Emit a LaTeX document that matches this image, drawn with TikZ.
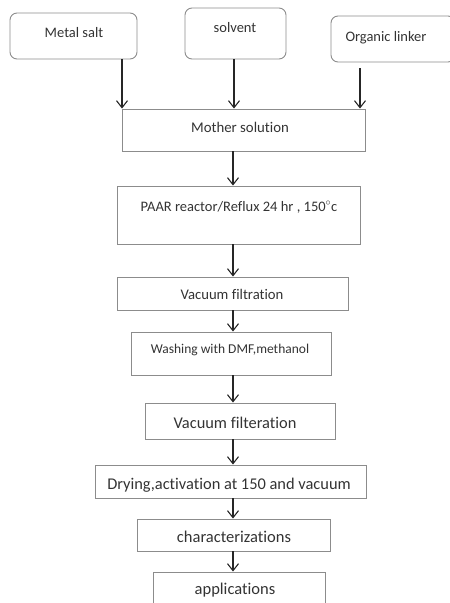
\documentclass[tikz,border=0pt]{standalone}
\usepackage{fontspec}
\setmainfont[Ligatures=CommonOff]{Carlito}
\usetikzlibrary{arrows.meta}
\definecolor{boxgray}{HTML}{8C8C8C}
\definecolor{txtgray}{HTML}{333333}
\definecolor{arrgray}{HTML}{262626}
\begin{document}
\begin{tikzpicture}[x=1pt,y=-1pt,
  box/.style={draw=boxgray,line width=0.9pt,inner sep=0pt,fill=none},
  rbox/.style={box,rounded corners=7pt},
  txt/.style={text=txtgray,inner sep=0pt,anchor=base},
  arr/.style={draw=arrgray,line width=1.1pt,-{Straight Barb[length=7pt,width=11pt,line width=1.1pt]}}]
\useasboundingbox (0,0) rectangle (450,603);
% boxes
\node[rbox,minimum width=127pt,minimum height=46pt] (ms) at (73.5,36) {};
\node[rbox,minimum width=101pt,minimum height=51pt] (sv) at (235.5,33.5) {};
\node[rbox,minimum width=124pt,minimum height=46pt] (ol) at (393,39) {};
\node[box,minimum width=243pt,minimum height=42pt] (mother) at (243.5,130) {};
\node[box,minimum width=243pt,minimum height=58pt] (paar) at (238.5,215) {};
\node[box,minimum width=231pt,minimum height=33pt] (vfa) at (232.5,293.5) {};
\node[box,minimum width=200pt,minimum height=43pt] (wash) at (231,353.5) {};
\node[box,minimum width=190pt,minimum height=36pt] (vfb) at (240,421) {};
\node[box,minimum width=271pt,minimum height=33pt] (dry) at (230.5,481.5) {};
\node[box,minimum width=193pt,minimum height=32pt] (chr) at (233.5,535) {};
\node[box,minimum width=172pt,minimum height=43pt] (app) at (239,593.5) {};
% texts
\node[txt,font=\fontsize{14.5}{16}\selectfont] (tms) at (74,37) {Metal salt};
\node[txt,font=\fontsize{14.5}{16}\selectfont] (tsv) at (235,32) {solvent};
\node[txt,font=\fontsize{14.5}{16}\selectfont] (tol) at (386,41) {Organic linker};
\node[txt,font=\fontsize{14.8}{16}\selectfont] (tmo) at (240,132) {Mother solution};
\node[txt,font=\fontsize{14.5}{16}\selectfont] (tpa) at (239,211) {PAAR reactor/Reflux 24 hr , 150$^{\circ}$c};
\node[txt,font=\fontsize{14.7}{16}\selectfont] (tva) at (232,299) {Vacuum filtration};
\node[txt,font=\fontsize{13.5}{15}\selectfont] (twa) at (230,353) {Washing with DMF,methanol};
\node[txt,font=\fontsize{16.4}{18}\selectfont] (tvb) at (235,428) {Vacuum filteration};
\node[txt,font=\fontsize{16.4}{18}\selectfont] (tdr) at (229,489) {Drying,activation at 150 and vacuum};
\node[txt,font=\fontsize{16.5}{18}\selectfont] (tch) at (234,542) {characterizations};
\node[txt,font=\fontsize{16.5}{18}\selectfont] (tap) at (235,594) {applications};
% arrow columns
\coordinate (ca) at (122,0);
\coordinate (cb) at (234,0);
\coordinate (olstart) at (360,68);
\coordinate (cm) at (233,0);
\draw[arr] (ms.south -| ca) -- (mother.north -| ca);
\draw[arr] (sv.south -| cb) -- (mother.north -| cb);
\draw[arr] (olstart) -- (mother.north -| olstart);
\draw[arr] (mother.south -| cm) -- (paar.north -| cm);
\draw[arr] (paar.south -| cm) -- (vfa.north -| cm);
\draw[arr] (vfa.south -| cm) -- (wash.north -| cm);
\draw[arr] (wash.south -| cm) -- (vfb.north -| cm);
\draw[arr] (vfb.south -| cm) -- (dry.north -| cm);
\draw[arr] (dry.south -| cm) -- (chr.north -| cm);
\draw[arr] (chr.south -| cm) -- (app.north -| cm);
\end{tikzpicture}
\end{document}
